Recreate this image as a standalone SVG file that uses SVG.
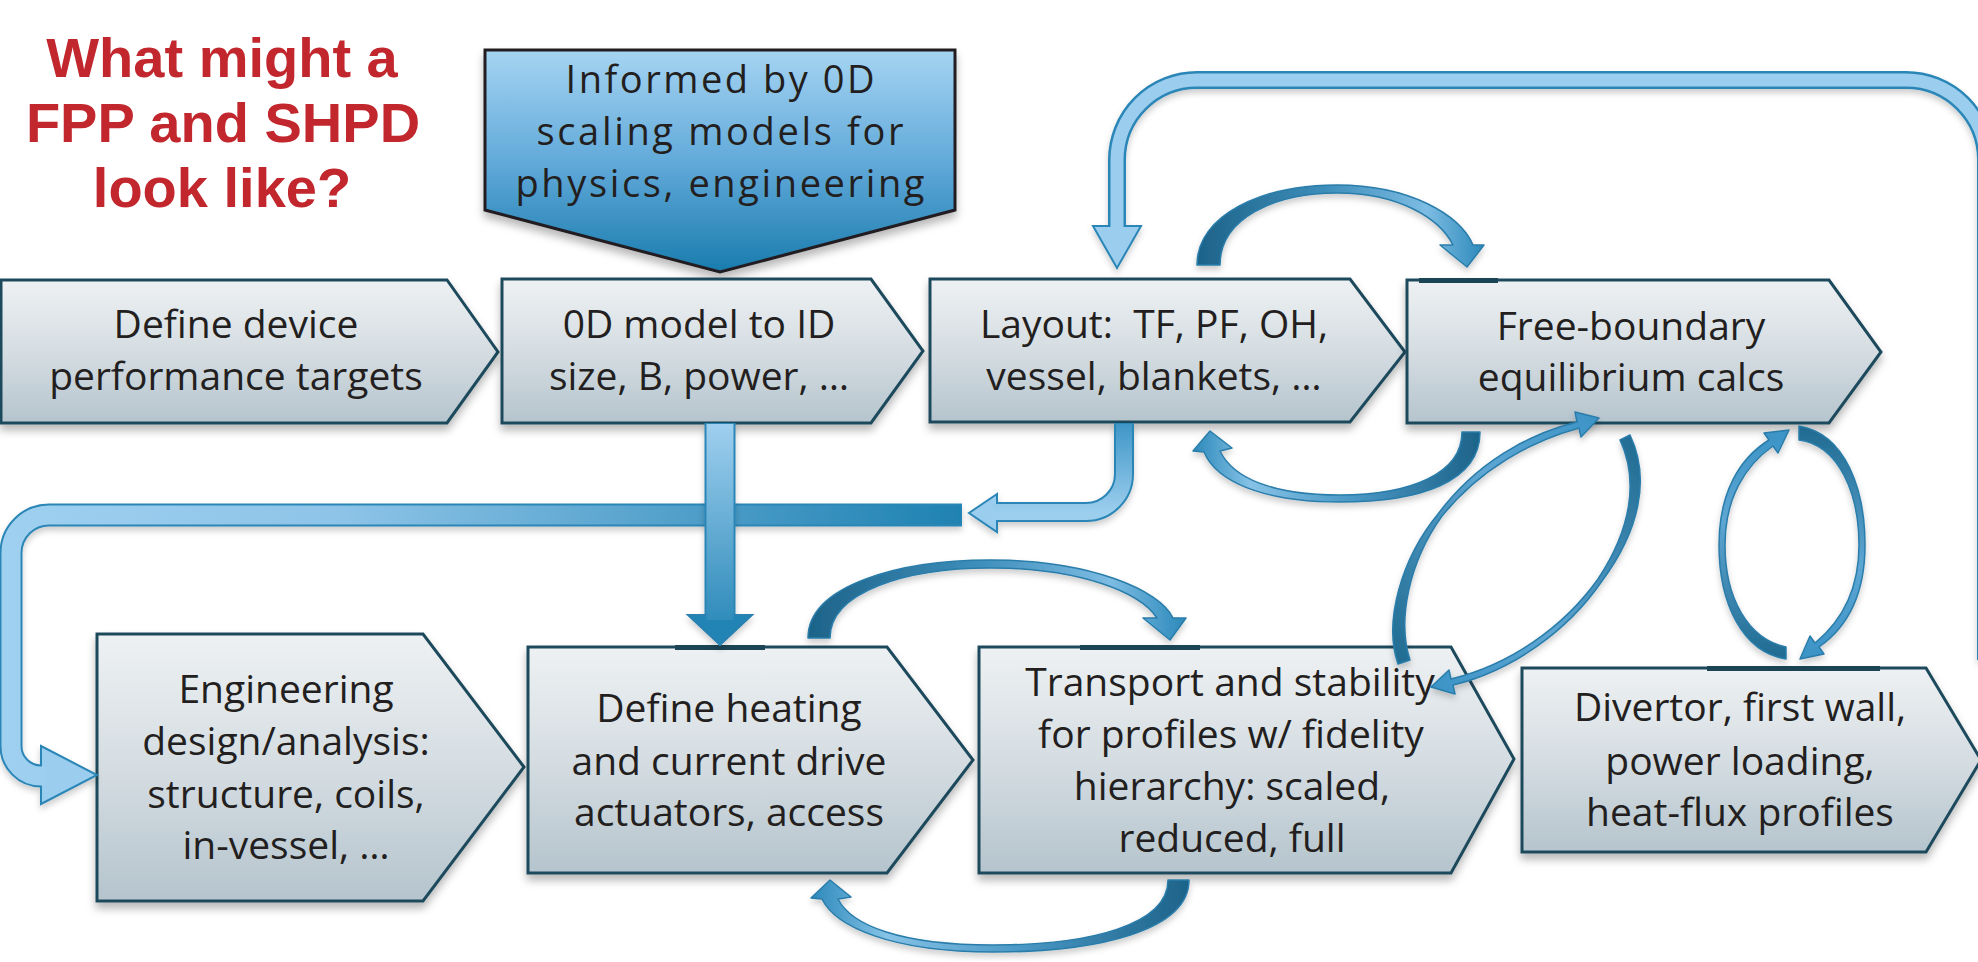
<svg xmlns="http://www.w3.org/2000/svg" width="1978" height="962" viewBox="0 0 1978 962">
<defs>
<style>
.title{font-family:"Liberation Sans",Arial,sans-serif;font-weight:bold;font-size:56px;fill:#C1272D;text-anchor:middle}
.t{font-family:"Open Sans","Noto Sans",sans-serif;font-size:39px;fill:#231F20;text-anchor:middle}
.tc{font-family:"Open Sans","Noto Sans",sans-serif;font-size:38px;fill:#231F20;text-anchor:middle}
.node{fill:url(#gNode);stroke:#1E4A5C;stroke-width:3;stroke-linejoin:miter;filter:url(#sh)}
.strip{fill:#1B4455}
.arc{stroke:#2A7DAA;stroke-width:1.5;stroke-linejoin:round;filter:url(#sh2)}
.bandOut{fill:none;stroke:#2C86B6;stroke-linejoin:round}
.headL{fill:#9BCDEE;stroke:#2C86B6;stroke-width:2;stroke-linejoin:miter}
</style>
<linearGradient id="gNode" x1="0" y1="0" x2="0" y2="1">
<stop offset="0" stop-color="#EEF1F3"/><stop offset="0.5" stop-color="#D5DDE2"/><stop offset="1" stop-color="#B5C4CD"/>
</linearGradient>
<linearGradient id="gCall" x1="0" y1="0" x2="0" y2="1">
<stop offset="0" stop-color="#A6D4F2"/><stop offset="0.5" stop-color="#62AADA"/><stop offset="1" stop-color="#1A7CAE"/>
</linearGradient>
<linearGradient id="gOver" x1="0" y1="0" x2="1" y2="0">
<stop offset="0" stop-color="#1D6389"/><stop offset="0.45" stop-color="#3E8EBB"/><stop offset="0.8" stop-color="#7DBCE3"/><stop offset="1" stop-color="#2C89BA"/>
</linearGradient>
<linearGradient id="gUnder" x1="1" y1="0" x2="0" y2="0">
<stop offset="0" stop-color="#1D6389"/><stop offset="0.45" stop-color="#4A98C6"/><stop offset="0.8" stop-color="#86C2E6"/><stop offset="1" stop-color="#2C89BA"/>
</linearGradient>
<linearGradient id="gLD" x1="0" y1="1" x2="1" y2="0">
<stop offset="0" stop-color="#1F6A90"/><stop offset="0.6" stop-color="#5EA6D3"/><stop offset="1" stop-color="#3B93C6"/>
</linearGradient>
<linearGradient id="gRD" x1="1" y1="0" x2="0" y2="1">
<stop offset="0" stop-color="#1F6A90"/><stop offset="0.6" stop-color="#5EA6D3"/><stop offset="1" stop-color="#3B93C6"/>
</linearGradient>
<linearGradient id="gUp" x1="0" y1="1" x2="0" y2="0">
<stop offset="0" stop-color="#1F6A90"/><stop offset="0.6" stop-color="#5EA6D3"/><stop offset="1" stop-color="#3B93C6"/>
</linearGradient>
<linearGradient id="gDown" x1="0" y1="0" x2="0" y2="1">
<stop offset="0" stop-color="#1F6A90"/><stop offset="0.6" stop-color="#5EA6D3"/><stop offset="1" stop-color="#3B93C6"/>
</linearGradient>
<linearGradient id="gHB" gradientUnits="userSpaceOnUse" x1="0" y1="0" x2="962" y2="0">
<stop offset="0" stop-color="#9FD0F0"/><stop offset="0.35" stop-color="#8EC4E8"/><stop offset="1" stop-color="#1F82B2"/>
</linearGradient>
<linearGradient id="gV" gradientUnits="userSpaceOnUse" x1="0" y1="422" x2="0" y2="645">
<stop offset="0" stop-color="#A0D0F0"/><stop offset="1" stop-color="#2284B4"/>
</linearGradient>
<linearGradient id="gLB" gradientUnits="userSpaceOnUse" x1="0" y1="422" x2="0" y2="512">
<stop offset="0" stop-color="#3D95C6"/><stop offset="1" stop-color="#9CCEEE"/>
</linearGradient>
<filter id="sh" x="-5%" y="-10%" width="110%" height="130%">
<feDropShadow dx="0" dy="6" stdDeviation="4" flood-color="#000" flood-opacity="0.28"/>
</filter>
<filter id="sh2" x="-10%" y="-10%" width="120%" height="130%">
<feDropShadow dx="0" dy="4" stdDeviation="3" flood-color="#000" flood-opacity="0.2"/>
</filter>
</defs>
<rect width="1978" height="962" fill="#FFFFFF"/>

<g id="title">
<text class="title" x="222" y="77">What might a</text>
<text class="title" x="223" y="142">FPP and SHPD</text>
<text class="title" x="222" y="207">look like?</text>
</g>

<g id="callout">
<polygon points="485,50 955,50 955,210 720,272 485,210" fill="url(#gCall)" stroke="#231F20" stroke-width="3" filter="url(#sh)"/>
<text class="tc" x="720" y="93" textLength="309" lengthAdjust="spacing">Informed by 0D</text>
<text class="tc" x="720" y="145" textLength="367" lengthAdjust="spacing">scaling models for</text>
<text class="tc" x="720" y="197" textLength="409" lengthAdjust="spacing">physics, engineering</text>
</g>

<g id="n1">
<polygon class="node" points="1,280 447,280 498,352 447,423 1,423"/>
<text class="t" x="236" y="338">Define device</text>
<text class="t" x="236" y="390">performance targets</text>
</g>
<g id="n2">
<polygon class="node" points="502,279 871,279 923,351 871,423 502,423"/>
<text class="t" x="699" y="338">0D model to ID</text>
<text class="t" x="699" y="390">size, B, power, …</text>
</g>
<g id="n3">
<polygon class="node" points="930,279 1350,279 1405,352 1350,422 930,422"/>
<text class="t" x="1154" y="338" xml:space="preserve">Layout:  TF, PF, OH,</text>
<text class="t" x="1154" y="390">vessel, blankets, …</text>
</g>
<g id="n4">
<polygon class="node" points="1407,280 1829,280 1881,352 1829,423 1407,423"/>
<rect class="strip" x="1419" y="278" width="79" height="5"/>
<text class="t" x="1631" y="340">Free-boundary</text>
<text class="t" x="1631" y="391">equilibrium calcs</text>
</g>
<g id="n5">
<polygon class="node" points="97,634 423,634 524,767 423,901 97,901"/>
<text class="t" x="286" y="703">Engineering</text>
<text class="t" x="286" y="755">design/analysis:</text>
<text class="t" x="286" y="808">structure, coils,</text>
<text class="t" x="286" y="859">in-vessel, …</text>
</g>
<g id="n6">
<polygon class="node" points="528,647 887,647 973,760 887,873 528,873"/>
<rect class="strip" x="675" y="645" width="90" height="5"/>
<text class="t" x="729" y="722">Define heating</text>
<text class="t" x="729" y="775">and current drive</text>
<text class="t" x="729" y="826">actuators, access</text>
</g>
<g id="n7">
<polygon class="node" points="979,647 1451,647 1514,759 1451,873 979,873"/>
<rect class="strip" x="1080" y="645" width="120" height="5"/>
<text class="t" x="1230" y="696">Transport and stability</text>
<text class="t" x="1231" y="748">for profiles w/ fidelity</text>
<text class="t" x="1232" y="800">hierarchy: scaled,</text>
<text class="t" x="1232" y="852">reduced, full</text>
</g>
<g id="n8">
<polygon class="node" points="1522,668 1926,668 1981,760 1926,852 1522,852"/>
<rect class="strip" x="1707" y="666" width="173" height="5"/>
<text class="t" x="1740" y="721">Divertor, first wall,</text>
<text class="t" x="1740" y="775">power loading,</text>
<text class="t" x="1740" y="826">heat-flux profiles</text>
</g>

<g id="connectors">
<!-- big top loop into Layout -->
<g filter="url(#sh2)">
<path class="bandOut" stroke-width="18" d="M1986,660 L1986,160 A80,80 0 0 0 1906,80 L1197,80 A80,80 0 0 0 1117,160 L1117,228"/>
<polygon class="headL" points="1093,226 1141,226 1117,268"/>
<path fill="none" stroke="#9BCDEE" stroke-width="13" d="M1986,660 L1986,160 A80,80 0 0 0 1906,80 L1197,80 A80,80 0 0 0 1117,160 L1117,232"/>
</g>
<!-- long horizontal band into Engineering -->
<g filter="url(#sh2)">
<path class="bandOut" stroke="#2A80B0" stroke-width="23" d="M962,515 L49,515 A38,38 0 0 0 11,553 L11,746 A30,30 0 0 0 41,776 L44,776"/>
<polygon class="headL" points="41,746 97,775 41,804"/>
<path fill="none" stroke="url(#gHB)" stroke-width="19" d="M961,515 L49,515 A38,38 0 0 0 11,553 L11,746 A30,30 0 0 0 41,776 L46,776"/>
</g>
<!-- L band from Layout leftwards -->
<g filter="url(#sh2)">
<path class="bandOut" stroke-width="20" d="M1124,423 L1124,474 A38,38 0 0 1 1086,512 L997,512"/>
<polygon class="headL" points="997,494 969,513 997,532"/>
<path fill="none" stroke="url(#gLB)" stroke-width="16" d="M1124,424 L1124,474 A38,38 0 0 1 1086,512 L993,512"/>
</g>
<!-- vertical from 0D model down to heating -->
<g filter="url(#sh2)">
<path class="bandOut" stroke="#2A80B0" stroke-width="31" d="M720,423 L720,617"/>
<polygon points="688,615 752,615 720,645" fill="#2384B4" stroke="#2A80B0" stroke-width="2"/>
<path fill="none" stroke="url(#gV)" stroke-width="27" d="M720,424 L720,620"/>
</g>
<!-- arc over Layout -> Free-boundary -->
<path class="arc" fill="url(#gOver)" d="M1197,265 C1197,215 1262,185 1337,185 C1410,185 1460,215 1473,245 L1484,245 L1467,267 L1440,245 L1453,245 C1440,219 1400,193 1337,193 C1275,193 1220,218 1220,265 Z"/>
<!-- arc under Free-boundary -> Layout -->
<path class="arc" fill="url(#gUnder)" d="M1480,432 C1480,482 1420,502 1340,502 C1262,502 1216,481 1204,452 L1193,451 L1210,431 L1232,448 L1220,451 C1233,478 1272,495 1340,495 C1410,495 1462,474 1462,432 Z"/>
<!-- arc over heating -> transport -->
<path class="arc" fill="url(#gOver)" d="M808,638 C808,585 900,560 990,560 C1090,560 1160,590 1173,618 L1186,618 L1170,640 L1143,618 L1157,618 C1140,592 1080,568 990,568 C905,568 830,592 830,638 Z"/>
<!-- arc under transport -> heating -->
<path class="arc" fill="url(#gUnder)" d="M1189,880 C1189,930 1100,952 993,952 C890,952 835,926 822,899 L811,898 L830,880 L851,897 L838,899 C851,925 900,945 993,945 C1090,945 1168,925 1168,880 Z"/>
<!-- diagonal loop: transport -> free-boundary -->
<path class="arc" fill="url(#gLD)" d="M1398,664 C1383,621 1402,558 1438,514 C1476,463 1528,434 1577,422 L1575,412 L1599,418 L1581,437 L1579,428 C1532,441 1481,468 1442,516 C1409,562 1397,620 1410,660 Z"/>
<!-- diagonal loop: free-boundary -> transport -->
<path class="arc" fill="url(#gRD)" d="M1630,435 C1651,479 1639,531 1602,581 C1567,632 1511,671 1453,685 L1455,694 L1431,687 L1449,670 L1451,679 C1509,665 1563,628 1598,579 C1631,529 1639,481 1620,440 Z"/>
<!-- vertical loop: divertor -> free-boundary -->
<path class="arc" fill="url(#gUp)" d="M1786,659 C1742,652 1719,603 1719,545 C1719,492 1740,458 1769,440 L1764,433 L1789,430 L1778,453 L1773,446 C1746,465 1725,497 1725,545 C1725,598 1748,639 1786,647 Z"/>
<!-- vertical loop: free-boundary -> divertor -->
<path class="arc" fill="url(#gDown)" d="M1799,426 C1846,434 1865,490 1865,545 C1865,593 1849,626 1819,647 L1824,654 L1800,659 L1810,636 L1815,643 C1843,620 1859,588 1859,545 C1859,494 1839,445 1799,440 Z"/>
</g>
</svg>
